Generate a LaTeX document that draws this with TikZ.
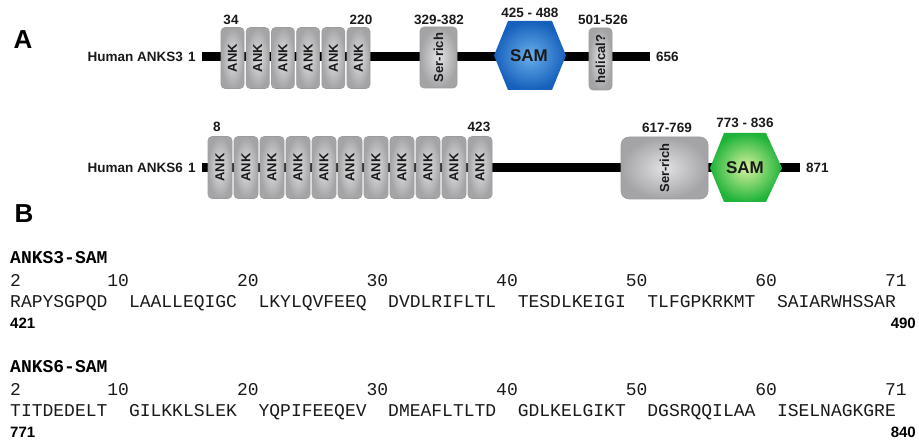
\documentclass[tikz,border=0pt]{standalone}
\usepackage{fontspec}
\setmainfont{Liberation Sans}
\newfontfamily\seqfont{Liberation Mono}
\definecolor{boxlight}{HTML}{E2E2E4}
\definecolor{boxdark}{HTML}{A4A4A6}
\definecolor{boxedge}{HTML}{9C9C9C}
\definecolor{bluein}{HTML}{6AAEEB}
\definecolor{blueout}{HTML}{1660BC}
\definecolor{greenin}{HTML}{D6F29C}
\definecolor{greenout}{HTML}{1FB33A}
\definecolor{txt}{HTML}{1A1A1A}
\begin{document}
\begin{tikzpicture}[x=1pt,y=-1pt,
  lbl/.style={font=\bfseries\fontsize{13.5}{14}\selectfont, text=txt, inner sep=0pt},
  panel/.style={font=\bfseries\fontsize{26}{26}\selectfont, inner sep=0pt},
  dombox/.style={draw=boxedge, line width=0.6pt, rounded corners=4pt,
    inner color=boxlight, outer color=boxdark, rotate=90, inner sep=0pt,
    text=txt, font=\bfseries\fontsize{13}{13}\selectfont},
  ank3/.style={dombox, minimum width=61pt, minimum height=23pt},
  ank6/.style={dombox, minimum width=62pt, minimum height=24pt},
  backbone/.style={line width=9pt, black},
  samtxt/.style={font=\bfseries\fontsize{17}{17}\selectfont, text=txt, inner sep=0pt},
  seq/.style={font=\seqfont\fontsize{18}{18}\selectfont, text=txt, anchor=base west, inner sep=0pt},
  seqtitle/.style={font=\seqfont\bfseries\fontsize{18}{18}\selectfont, text=black, anchor=base west, inner sep=0pt},
  endnum/.style={font=\bfseries\fontsize{15}{15}\selectfont, text=black, inner sep=0pt}]
\useasboundingbox (0,0) rectangle (919,441);

% ---------------- Panel A ----------------
\node[panel] (pA) at (23,40) {A};

% ANKS3
\coordinate (s3a) at (202,57);
\coordinate (s3b) at (650,57);
\draw[backbone] (s3a) -- (s3b);
\node[lbl, anchor=east] (n3name) at (183,57) {Human ANKS3};
\node[lbl] (n3one) at (192,57) {1};
\node[lbl, anchor=west] (n3end) at (656,57) {656};
\foreach \i in {0,...,5}{
  \node[ank3] (a3\i) at ({232.5+25.2*\i},58) {ANK};
}
\node[lbl] (l34) at (231,20) {34};
\node[lbl] (l220) at (361,20) {220};
\node[dombox, minimum width=61pt, minimum height=37pt] (ser3) at (438.5,57.5) {Ser-rich};
\node[lbl] (l329) at (439,20) {329-382};
\path[inner color=bluein, outer color=blueout]
  (494,55.5) -- (508,21) -- (552,21) -- (566,55.5) -- (552,90) -- (508,90) -- cycle;
\node[samtxt] (sam3) at (529,55.5) {SAM};
\node[lbl] (l425) at (530,13) {425 - 488};
\node[dombox, minimum width=62pt, minimum height=23pt] (hel3) at (600.5,59) {helical?};
\node[lbl] (l501) at (603,20) {501-526};

% ANKS6
\coordinate (s6a) at (202,168);
\coordinate (s6b) at (800,168);
\draw[backbone] (s6a) -- (s6b);
\node[lbl, anchor=east] (n6name) at (183,168) {Human ANKS6};
\node[lbl] (n6one) at (192,168) {1};
\node[lbl, anchor=west] (n6end) at (806,168) {871};
\foreach \i in {0,...,10}{
  \node[ank6] (a6\i) at ({220+26*\i},167.5) {ANK};
}
\node[lbl] (l8) at (217,127) {8};
\node[lbl] (l423) at (479,127) {423};
\node[dombox, rounded corners=8pt, minimum width=62pt, minimum height=87pt] (ser6) at (664.5,168) {Ser-rich};
\node[lbl] (l617) at (667,128) {617-769};
\path[inner color=greenin, outer color=greenout]
  (710,168) -- (724,133) -- (766,133) -- (782,168) -- (766,202) -- (724,202) -- cycle;
\node[samtxt] (sam6) at (745,168) {SAM};
\node[lbl] (l773) at (745,123) {773 - 836};

% ---------------- Panel B ----------------
\node[panel] (pB) at (24,214) {B};

% ANKS3-SAM
\node[seqtitle] (t3) at (10,263) {ANKS3-SAM};
\foreach \c/\n in {0/2, 9/10, 21/20, 33/30, 45/40, 57/50, 69/60, 81/71}{
  \node[seq] (n3c\c) at ({10+10.8*\c},286) {\n};
}
\foreach \c/\s in {0/RAPYSGPQD, 11/LAALLEQIGC, 23/LKYLQVFEEQ, 35/DVDLRIFLTL, 47/TESDLKEIGI, 59/TLFGPKRKMT, 71/SAIARWHSSAR}{
  \node[seq] (s3c\c) at ({10+10.8*\c},307) {\s};
}
\node[endnum, anchor=base west] (b421) at (10,328.5) {421};
\node[endnum, anchor=base east] (b490) at (916,328.5) {490};

% ANKS6-SAM
\node[seqtitle] (t6) at (10,372) {ANKS6-SAM};
\foreach \c/\n in {0/2, 9/10, 21/20, 33/30, 45/40, 57/50, 69/60, 81/71}{
  \node[seq] (n6c\c) at ({10+10.8*\c},395) {\n};
}
\foreach \c/\s in {0/TITDEDELT, 11/GILKKLSLEK, 23/YQPIFEEQEV, 35/DMEAFLTLTD, 47/GDLKELGIKT, 59/DGSRQQILAA, 71/ISELNAGKGRE}{
  \node[seq] (s6c\c) at ({10+10.8*\c},416) {\s};
}
\node[endnum, anchor=base west] (b771) at (10,437.5) {771};
\node[endnum, anchor=base east] (b840) at (916,437.5) {840};
\end{tikzpicture}
\end{document}
